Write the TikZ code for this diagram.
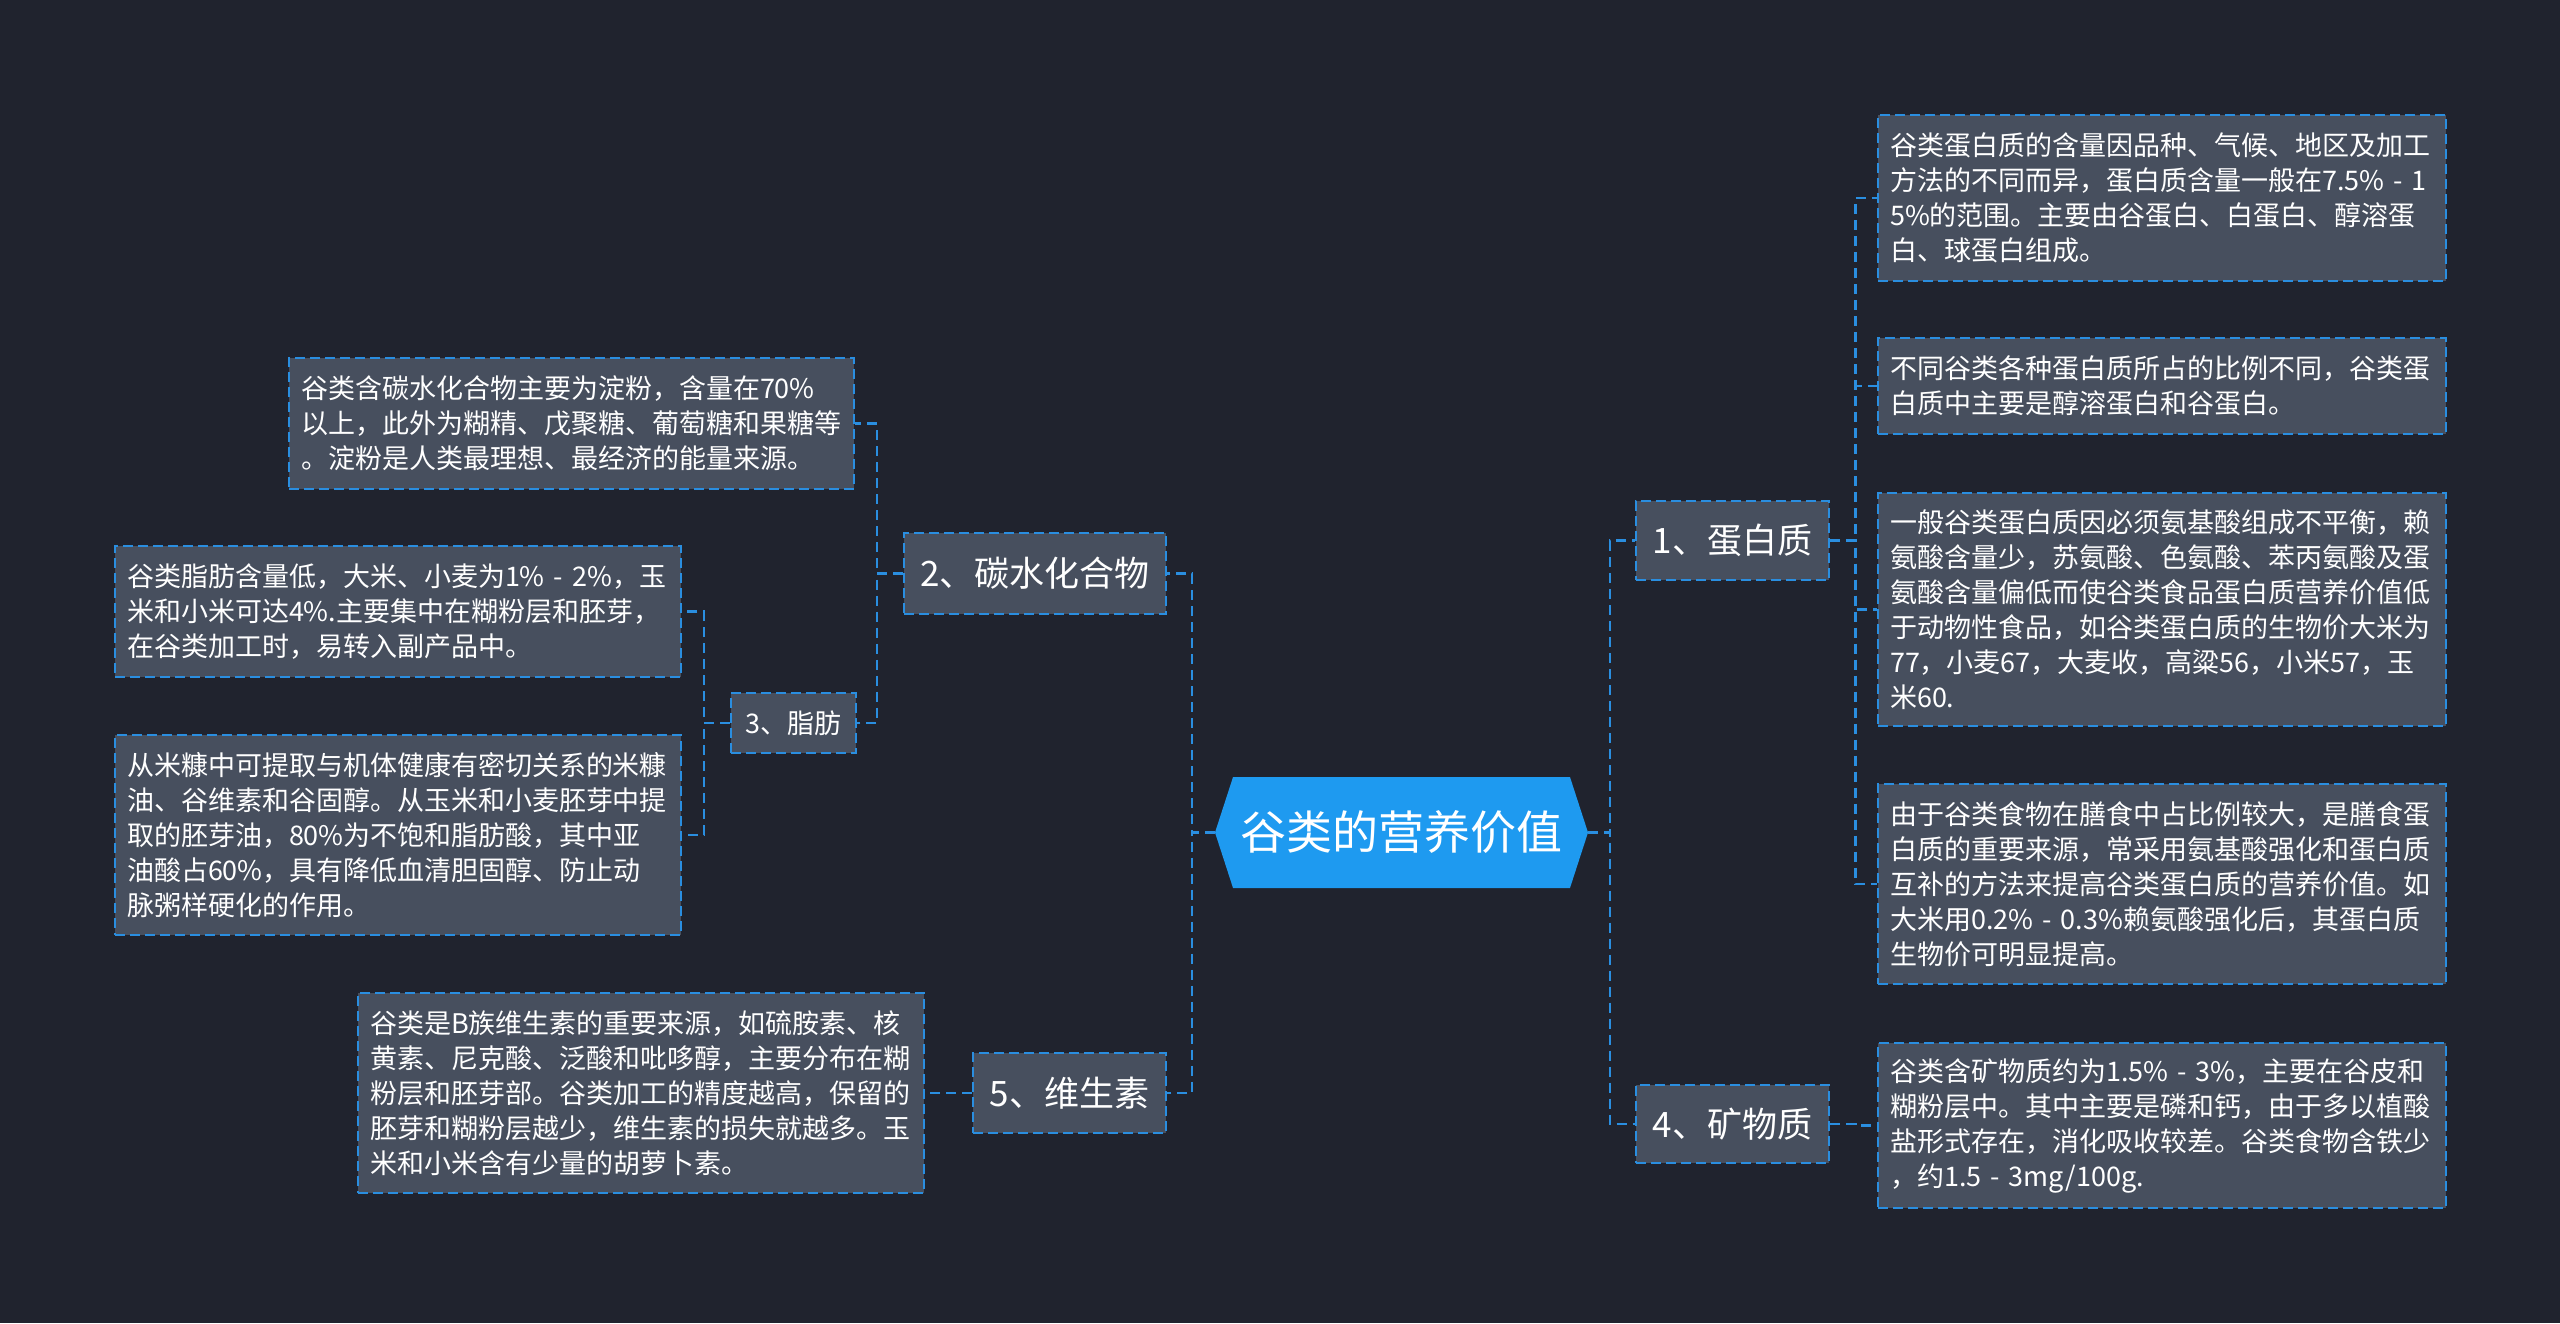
\documentclass[tikz,border=0pt]{standalone}
\usepackage{fontspec}
\setmainfont{Noto Sans CJK SC}
\usetikzlibrary{shapes.symbols}
\definecolor{bgc}{HTML}{20232E}
\definecolor{boxc}{HTML}{474F5E}
\definecolor{linec}{HTML}{2A8EE0}
\definecolor{hexc}{HTML}{1E9AF0}
\tikzset{
  conn/.style={draw=linec, line width=2.5pt, dash pattern=on 10pt off 6pt},
  branch/.style={draw=linec, line width=2.5pt, dash pattern=on 10pt off 5pt, fill=boxc, text=white,
    inner sep=0pt, font=\fontsize{35}{42}\selectfont},
  detail/.style={draw=linec, line width=2.5pt, dash pattern=on 10pt off 5pt, fill=boxc, text=white,
    inner xsep=12pt, inner ysep=0pt, align=left, font=\fontsize{27}{35}\selectfont},
  hexnode/.style={signal, signal to=west and east, signal pointer angle=144, fill=hexc, text=white,
    inner sep=0pt, minimum width=373pt, minimum height=111pt, font=\fontsize{46}{50}\selectfont}
}
\begin{document}
\begin{tikzpicture}[x=1pt,y=-1pt]
\useasboundingbox (0,0) rectangle (2560,1323);
\fill[bgc] (0,0) rectangle (2560,1323);

% central
\node[hexnode] (center) at (1401.5,832.5) {谷类的营养价值};

% branches
\node[branch, minimum width=193pt, minimum height=79pt] (n1) at (1732.5,540.5) {1、蛋白质};
\node[branch, minimum width=193pt, minimum height=78pt] (n4) at (1732.5,1124) {4、矿物质};
\node[branch, minimum width=262pt, minimum height=81pt] (n2) at (1035,573.5) {2、碳水化合物};
\node[branch, minimum width=193pt, minimum height=80pt] (n5) at (1069.5,1093) {5、维生素};
\node[branch, minimum width=125pt, minimum height=60pt, font=\fontsize{27}{32}\selectfont] (n3) at (793.5,723) {3、脂肪};

% right details
\node[detail, text width=544pt, minimum height=166pt] (r1) at (2162,198) {谷类蛋白质的含量因品种、气候、地区及加工\\方法的不同而异，蛋白质含量一般在7.5\%~-~1\\5\%的范围。主要由谷蛋白、白蛋白、醇溶蛋\\白、球蛋白组成。};
\node[detail, text width=544pt, minimum height=96pt] (r2) at (2162,386) {不同谷类各种蛋白质所占的比例不同，谷类蛋\\白质中主要是醇溶蛋白和谷蛋白。};
\node[detail, text width=544pt, minimum height=233pt] (r3) at (2162,609.5) {一般谷类蛋白质因必须氨基酸组成不平衡，赖\\氨酸含量少，苏氨酸、色氨酸、苯丙氨酸及蛋\\氨酸含量偏低而使谷类食品蛋白质营养价值低\\于动物性食品，如谷类蛋白质的生物价大米为\\77，小麦67，大麦收，高粱56，小米57，玉\\米60.};
\node[detail, text width=544pt, minimum height=200pt] (r4) at (2162,884) {由于谷类食物在膳食中占比例较大，是膳食蛋\\白质的重要来源，常采用氨基酸强化和蛋白质\\互补的方法来提高谷类蛋白质的营养价值。如\\大米用0.2\%~-~0.3\%赖氨酸强化后，其蛋白质\\生物价可明显提高。};
\node[detail, text width=544pt, minimum height=165pt] (r5) at (2162,1125.5) {谷类含矿物质约为1.5\%~-~3\%，主要在谷皮和\\糊粉层中。其中主要是磷和钙，由于多以植酸\\盐形式存在，消化吸收较差。谷类食物含铁少\\，约1.5~-~3mg/100g.};

% left details
\node[detail, text width=541pt, minimum height=131pt] (lc) at (571.5,423.5) {谷类含碳水化合物主要为淀粉，含量在70\%\\以上，此外为糊精、戊聚糖、葡萄糖和果糖等\\。淀粉是人类最理想、最经济的能量来源。};
\node[detail, text width=542pt, minimum height=131pt] (lf1) at (398,611.5) {谷类脂肪含量低，大米、小麦为1\%~-~2\%，玉\\米和小米可达4\%.主要集中在糊粉层和胚芽，\\在谷类加工时，易转入副产品中。};
\node[detail, text width=542pt, minimum height=200pt] (lf2) at (398,835) {从米糠中可提取与机体健康有密切关系的米糠\\油、谷维素和谷固醇。从玉米和小麦胚芽中提\\取的胚芽油，80\%为不饱和脂肪酸，其中亚\\油酸占60\%，具有降低血清胆固醇、防止动\\脉粥样硬化的作用。};
\node[detail, text width=542pt, minimum height=200pt] (lv) at (641,1093) {谷类是B族维生素的重要来源，如硫胺素、核\\黄素、尼克酸、泛酸和吡哆醇，主要分布在糊\\粉层和胚芽部。谷类加工的精度越高，保留的\\胚芽和糊粉层越少，维生素的损失就越多。玉\\米和小米含有少量的胡萝卜素。};

% connectors
\draw[conn] (center.east) -- ++(22,0) |- (n1.west);
\draw[conn] (center.east) -- ++(22,0) |- (n4.west);
\draw[conn] (center.west) -- ++(-23,0) |- (n2.east);
\draw[conn] (center.west) -- ++(-23,0) |- (n5.east);
\foreach \r in {r1,r2,r3,r4} \draw[conn] (n1.east) -- ++(25,0) |- (\r.west);
\draw[conn] (n4.east) -- ++(25,0) |- (r5.west);
\draw[conn] (n2.west) -- ++(-26,0) |- (lc.east);
\draw[conn] (n2.west) -- ++(-26,0) |- (n3.east);
\draw[conn] (n3.west) -- ++(-26,0) |- (lf1.east);
\draw[conn] (n3.west) -- ++(-26,0) |- (lf2.east);
\draw[conn] (n5.west) -- (lv.east);
\end{tikzpicture}
\end{document}
